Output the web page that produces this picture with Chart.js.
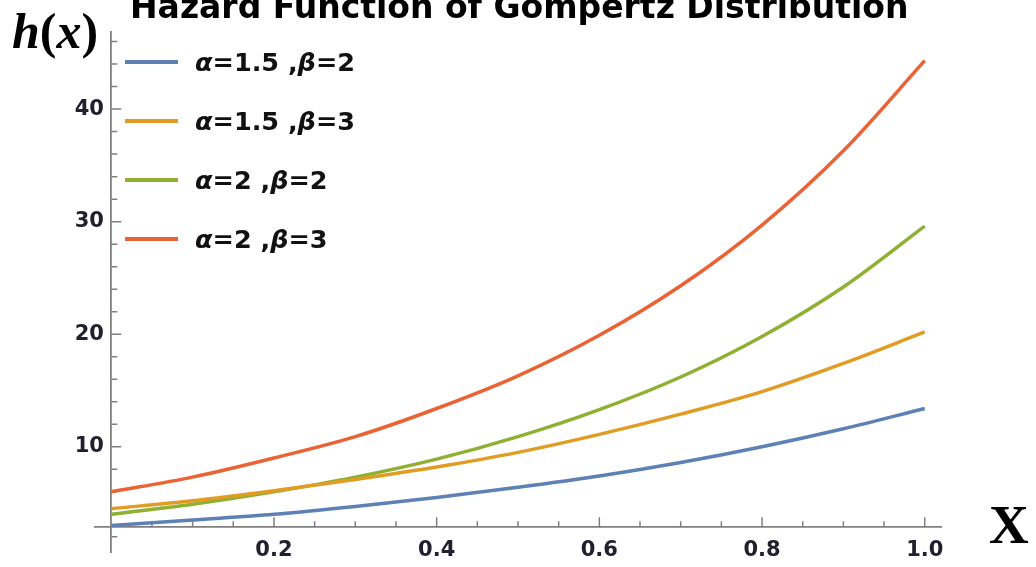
<!DOCTYPE html>
<html>
<head>
<meta charset="utf-8">
<title>Hazard Function of Gompertz Distribution</title>
<script src="https://cdn.jsdelivr.net/npm/chart.js@4.4.1/dist/chart.umd.min.js"></script>
<style>
  html, body { margin: 0; padding: 0; background: #fff; }
  #wrap { width: 1036px; height: 567px; position: relative; }
</style>
</head>
<body>
<div id="wrap"><canvas id="grafico"></canvas></div>
<script>
// x positions and h(x) values for each parameter pair
const xs = [0, 0.1, 0.2, 0.3, 0.4, 0.5, 0.6, 0.7, 0.8, 0.9, 1.0];
const hA15B2 = [3.0, 3.5, 4.0, 4.7, 5.5, 6.4, 7.4, 8.6, 10.0, 11.6, 13.4];
const hA15B3 = [4.5, 5.2, 6.1, 7.1, 8.2, 9.5, 11.1, 12.9, 14.9, 17.4, 20.2];
const hA2B2  = [4.0, 4.9, 6.0, 7.3, 8.9, 10.9, 13.3, 16.2, 19.8, 24.2, 29.6];
const hA2B3  = [6.0, 7.3, 9.0, 10.9, 13.4, 16.3, 19.9, 24.3, 29.7, 36.3, 44.3];

const seriesLabels = ['α=1.5 ,β=2', 'α=1.5 ,β=3', 'α=2 ,β=2', 'α=2 ,β=3'];
const seriesColors = ['#5e81b5', '#e19c24', '#8fb032', '#eb6235'];

const xTickLabels = ['0.2', '0.4', '0.6', '0.8', '1.0'];
const yTickLabels = ['10', '20', '30', '40'];

const titleText = 'Hazard Function of Gompertz Distribution';

const sans = '"DejaVu Sans", sans-serif';
const serif = '"Liberation Serif", "Times New Roman", serif';
const axisGray = '#808080';
const labelInk = '#20202e';
const xAxisAt = 2.85; // where the horizontal axis crosses

function pts(vals) {
    return xs.map((x, i) => ({ x: x, y: vals[i] }));
}

const allSeries = [hA15B2, hA15B3, hA2B2, hA2B3];

const datasets = allSeries.map((vals, i) => ({
    label: seriesLabels[i],
    data: pts(vals),
    borderColor: seriesColors[i],
    borderWidth: 3.5,
    pointRadius: 0,
    fill: false,
    cubicInterpolationMode: 'monotone'
}));

// keep the axes from eating space or adding label overhang
function flatten(scale) {
    if (scale.isHorizontal()) scale.height = 0;
    else scale.width = 0;
    scale.paddingTop = 0;
    scale.paddingBottom = 0;
    scale.paddingLeft = 0;
    scale.paddingRight = 0;
}

// Mathematica-style inward tick marks, long for labelled ticks
const innerTicks = {
    id: 'innerTicks',
    beforeDatasetsDraw(chart) {
        const { ctx, scales: { x, y } } = chart;
        const x0 = x.getPixelForValue(0);
        const yAxisAt = y.getPixelForValue(xAxisAt);
        ctx.save();
        ctx.strokeStyle = axisGray;
        ctx.lineWidth = 1.5;
        ctx.beginPath();
        x.ticks.forEach(t => {
            if (Math.abs(t.value) < 1e-9) return;
            const px = x.getPixelForValue(t.value);
            const major = Math.abs(t.value * 5 - Math.round(t.value * 5)) < 1e-6;
            ctx.moveTo(px, yAxisAt);
            ctx.lineTo(px, yAxisAt - (major ? 10 : 6));
        });
        y.ticks.forEach(t => {
            const py = y.getPixelForValue(t.value);
            const major = t.value % 10 === 0;
            ctx.moveTo(x0, py);
            ctx.lineTo(x0 + (major ? 10 : 6), py);
        });
        ctx.stroke();
        ctx.restore();
    }
};

// draws a run of text pieces, each with its own font
function drawRuns(ctx, runs, x, y) {
    let cx = x;
    runs.forEach(r => {
        ctx.font = r.font;
        ctx.fillText(r.text, cx, y);
        cx += ctx.measureText(r.text).width;
    });
}

// title, axis names and the legend
const decor = {
    id: 'decor',
    afterDraw(chart) {
        const ctx = chart.ctx;
        ctx.save();
        ctx.fillStyle = '#000';
        ctx.textBaseline = 'alphabetic';
        ctx.textAlign = 'left';

        ctx.font = 'bold 33px ' + sans;
        ctx.fillText(titleText, 130, 18);

        drawRuns(ctx, [
            { text: 'h', font: 'italic bold 50px ' + serif },
            { text: '(', font: 'bold 50px ' + serif },
            { text: 'x', font: 'italic bold 50px ' + serif },
            { text: ')', font: 'bold 50px ' + serif }
        ], 12, 48);

        ctx.font = 'bold 55px ' + serif;
        ctx.fillText('X', 989, 543);

        chart.data.datasets.forEach((ds, i) => {
            const ly = 62 + i * 59;
            ctx.strokeStyle = ds.borderColor;
            ctx.lineWidth = 4;
            ctx.beginPath();
            ctx.moveTo(125, ly);
            ctx.lineTo(178, ly);
            ctx.stroke();

            ctx.fillStyle = '#111';
            const runs = [];
            ds.label.split(/([αβ])/).forEach(part => {
                if (!part) return;
                const greek = part === 'α' || part === 'β';
                runs.push({ text: part, font: (greek ? 'italic ' : '') + 'bold 25.5px ' + sans });
            });
            drawRuns(ctx, runs, 195, ly + 9);
        });
        ctx.restore();
    }
};

new Chart(document.getElementById('grafico').getContext('2d'), {
    type: 'line',
    data: { datasets: datasets },
    plugins: [innerTicks, decor],
    options: {
        responsive: true,
        maintainAspectRatio: false,
        animation: false,
        layout: { padding: { left: 95, right: 95, top: 32, bottom: 15 } },
        plugins: {
            legend: { display: false },
            tooltip: { enabled: false },
            title: { display: false }
        },
        scales: {
            x: {
                type: 'linear',
                min: -0.02,
                max: 1.02,
                position: { y: xAxisAt },
                afterFit: flatten,
                grid: { drawOnChartArea: false, drawTicks: false },
                border: { color: axisGray, width: 1.8 },
                ticks: {
                    stepSize: 0.05,
                    includeBounds: false,
                    autoSkip: false,
                    maxRotation: 0,
                    padding: 11,
                    color: labelInk,
                    font: { family: sans, weight: 'bold', size: 21 },
                    callback(v) {
                        const major = Math.abs(v * 5 - Math.round(v * 5)) < 1e-6;
                        const s = Number(v).toFixed(1);
                        return major && xTickLabels.includes(s) ? s : '';
                    }
                }
            },
            y: {
                type: 'linear',
                min: 0.65,
                max: 46.85,
                position: { x: 0 },
                afterFit: flatten,
                grid: { drawOnChartArea: false, drawTicks: false },
                border: { color: axisGray, width: 1.8 },
                ticks: {
                    stepSize: 2,
                    includeBounds: false,
                    autoSkip: false,
                    color: labelInk,
                    font: { family: sans, weight: 'bold', size: 21 },
                    callback(v) {
                        const s = String(Math.round(v));
                        // trailing space keeps the label clear of the axis line
                        return v % 10 === 0 && yTickLabels.includes(s) ? s + ' ' : '';
                    }
                }
            }
        }
    }
});
</script>
</body>
</html>
